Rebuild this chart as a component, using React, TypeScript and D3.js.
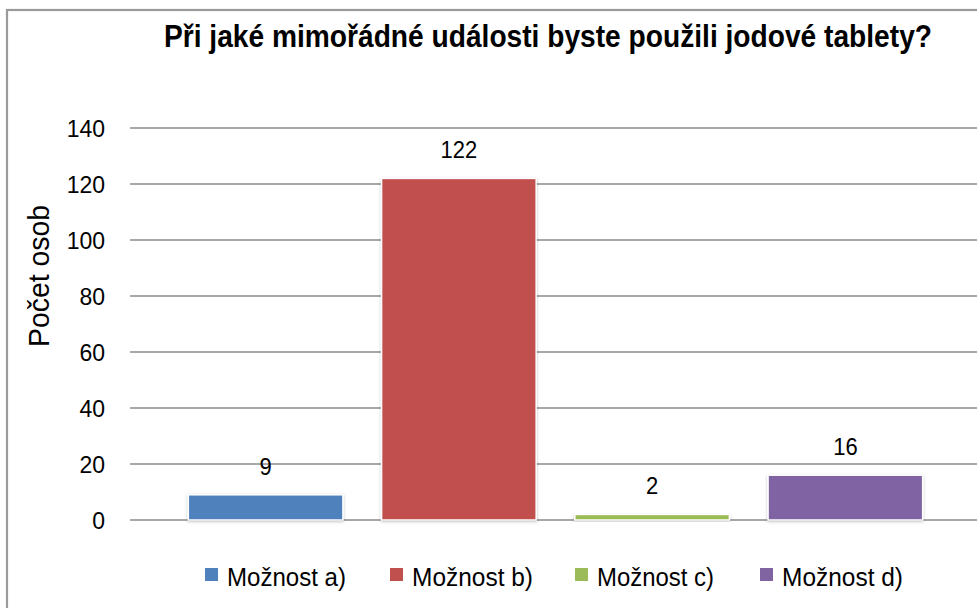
import React from "react";
import * as d3 from "d3";

const categories = ["Možnost a)", "Možnost b)", "Možnost c)", "Možnost d)"];
const values = [9, 122, 2, 16];
const colors = ["#4F81BD", "#C0504D", "#9BBB59", "#8064A2"];
const yTicks = [0, 20, 40, 60, 80, 100, 120, 140];
const legendWidths = [119, 121, 117, 121];
const title = "Při jaké mimořádné události byste použili jodové tablety?";
const yTitle = "Počet osob";

const W = 977;
const H = 608;
const FONT = "'Liberation Sans', Arial, sans-serif";

export default function App() {
  const y = d3.scaleLinear().domain([0, 140]).range([520, 128]);
  const x = d3
    .scaleBand<string>()
    .domain(categories)
    .range([169, 942])
    .paddingInner(0.2)
    .paddingOuter(0.1);

  const gridX0 = 130;
  const gridX1 = W + 10;
  const legendX0 = 205;
  const legendStep = 185;
  const legendY = 568;

  return (
    <svg
      width={W}
      height={H}
      style={{ position: "absolute", left: 0, top: 0, background: "#fff" }}
      fontFamily={FONT}
    >
      <defs>
        <filter id="shadow" x="-10%" y="-10%" width="120%" height="130%">
          <feDropShadow dx="0" dy="1" stdDeviation="1.5" floodColor="#000" floodOpacity="0.25" />
        </filter>
      </defs>
      <rect x={0} y={0} width={W} height={H} fill="#fff" />
      <rect x={7} y={10} width={W + 50} height={H + 50} fill="#fff" stroke="#9a9a9a" strokeWidth={2.2} />

      <text
        transform="translate(548, 47) scale(1, 1.2)"
        textAnchor="middle"
        fontWeight="bold"
        fontSize={26}
        textLength={768}
        lengthAdjust="spacingAndGlyphs"
        fill="#000"
      >
        {title}
      </text>

      {yTicks.map((t) => (
        <g key={t}>
          <line x1={gridX0} x2={gridX1} y1={y(t)} y2={y(t)} stroke="#8a8a8a" strokeWidth={1.3} />
          <text
            transform={`translate(105, ${y(t) + 8.5}) scale(1, 1.08)`}
            textAnchor="end"
            fontSize={23}
            fill="#000"
          >
            {t}
          </text>
        </g>
      ))}

      <text
        transform={`translate(49, 276) rotate(-90) scale(1, 1.1)`}
        textAnchor="middle"
        fontSize={27}
        textLength={142}
        lengthAdjust="spacingAndGlyphs"
        fill="#000"
      >
        {yTitle}
      </text>

      {categories.map((c, i) => (
        <g key={c}>
          <rect
            x={x(c)}
            y={y(values[i])}
            width={x.bandwidth()}
            height={y(0) - y(values[i])}
            fill={colors[i]}
            stroke="#fff"
            strokeWidth={1.5}
            filter="url(#shadow)"
          />
          <text
            transform={`translate(${(x(c) as number) + x.bandwidth() / 2}, ${y(values[i]) - 20}) scale(1, 1.08)`}
            textAnchor="middle"
            fontSize={22}
            fill="#000"
          >
            {values[i]}
          </text>
        </g>
      ))}

      {categories.map((c, i) => (
        <g key={"leg" + c} transform={`translate(${legendX0 + i * legendStep}, ${legendY})`}>
          <rect x={0} y={0} width={13} height={13} fill={colors[i]} />
          <text
            transform="translate(22, 18) scale(1, 1.15)"
            fontSize={23}
            textLength={legendWidths[i]}
            lengthAdjust="spacingAndGlyphs"
            fill="#000"
          >
            {c}
          </text>
        </g>
      ))}
    </svg>
  );
}
